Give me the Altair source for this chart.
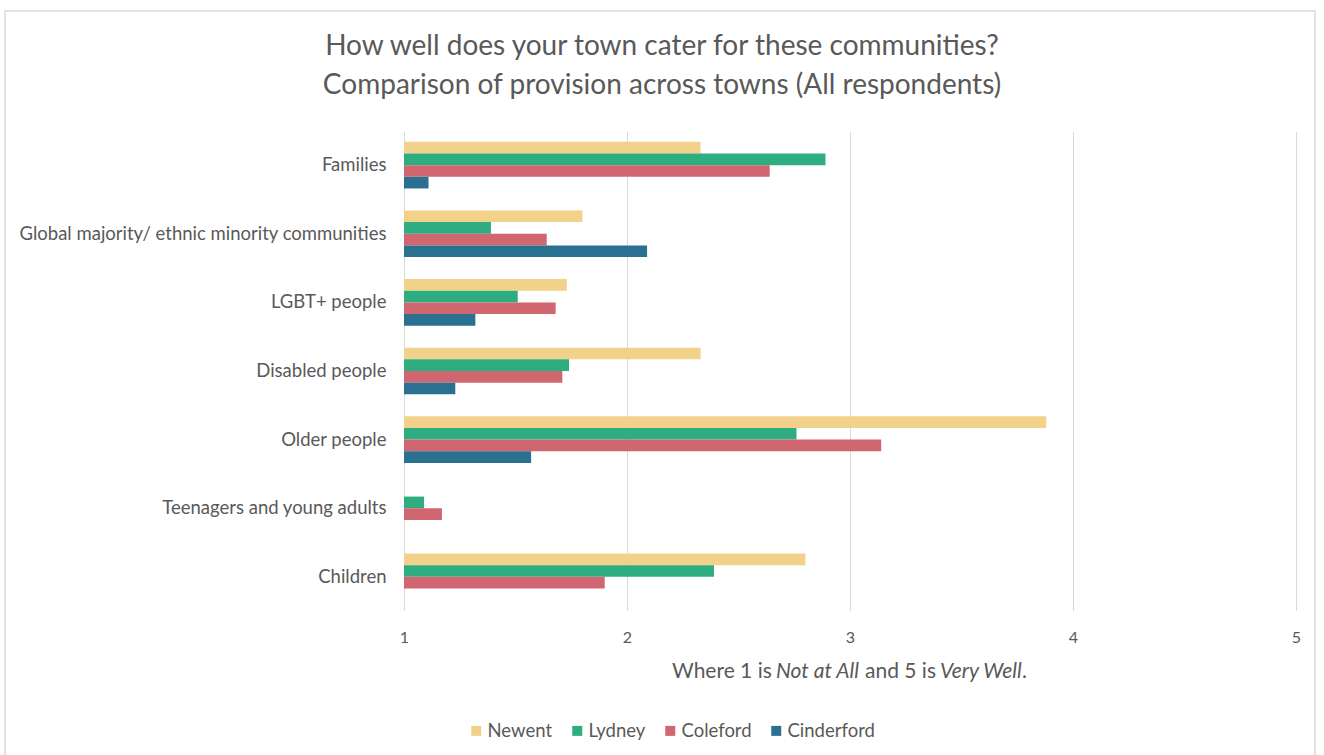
import altair as alt
import pandas as pd

# Survey categories (top to bottom) and the four towns
categories = [
    "Families",
    "Global majority/ ethnic minority communities",
    "LGBT+ people",
    "Disabled people",
    "Older people",
    "Teenagers and young adults",
    "Children",
]
towns = ["Newent", "Lydney", "Coleford", "Cinderford"]
town_colors = ["#F2D18B", "#2EAD80", "#CF6670", "#2A7191"]

# Mean rating per town (1 = Not at All, 5 = Very Well); None = no response
newent = [2.33, 1.80, 1.73, 2.33, 3.88, None, 2.80]
lydney = [2.89, 1.39, 1.51, 1.74, 2.76, 1.09, 2.39]
coleford = [2.64, 1.64, 1.68, 1.71, 3.14, 1.17, 1.90]
cinderford = [1.11, 2.09, 1.32, 1.23, 1.57, None, None]

x_ticks = [1, 2, 3, 4, 5]

title_lines = [
    "How well does your town cater for these communities?",
    "Comparison of provision across towns (All respondents)",
]

rows = []
for town, vals in zip(towns, [newent, lydney, coleford, cinderford]):
    for cat, v in zip(categories, vals):
        if v is not None:
            rows.append({"category": cat, "town": town, "score": v})
df = pd.DataFrame(rows)

FONT = "Lato"
GREY = "#595959"

W, H = 892, 479
PAD_L, PAD_T = 404, 131.5

bars = alt.Chart(df).mark_bar().encode(
    y=alt.Y(
        "category:N",
        sort=categories,
        scale=alt.Scale(paddingInner=0.32, paddingOuter=0.15),
        axis=alt.Axis(
            title=None, domain=False, ticks=False, grid=False,
            labelFont=FONT, labelFontSize=18.5, labelColor=GREY, labelPadding=18,
            labelLimit=400,
        ),
    ),
    yOffset=alt.YOffset("town:N", sort=towns, scale=alt.Scale(paddingInner=0, paddingOuter=0)),
    x=alt.X(
        "score:Q",
        scale=alt.Scale(domain=[1, 5], nice=False, zero=False),
        axis=alt.Axis(
            title=None, values=x_ticks, format="d", domain=False, ticks=False,
            grid=True, gridColor="#D9D9D9", gridWidth=1, labelFlush=False,
            labelFont=FONT, labelFontSize=16, labelColor=GREY, labelPadding=19,
        ),
    ),
    x2=alt.datum(1),
    color=alt.Color(
        "town:N",
        sort=towns,
        scale=alt.Scale(domain=towns, range=town_colors),
        legend=alt.Legend(
            title=None, orient="none", direction="horizontal",
            legendX=63, legendY=590,
            symbolType="square", symbolSize=100, symbolStrokeWidth=0,
            labelFont=FONT, labelFontSize=18.5, labelColor=GREY,
            labelOffset=2, columnPadding=15,
        ),
    ),
)

def text_piece(txt, x, y, size, style="normal", align="left"):
    return alt.Chart(pd.DataFrame({"t": [txt]})).mark_text(
        font=FONT, fontSize=size, color=GREY, fontStyle=style,
        align=align, baseline="middle", clip=False,
    ).encode(text="t:N", x=alt.value(x - PAD_L), y=alt.value(y - PAD_T))

# Two-line chart title centred over the whole figure
title = text_piece(title_lines[0], 662, 47, 28, align="center") + text_piece(
    title_lines[1], 662, 86, 28, align="center"
)

# Axis caption with italic phrases, assembled from plain and italic pieces
cap_y = 672
caption = (
    text_piece("Where 1 is", 672, cap_y, 21)
    + text_piece("Not at All", 776, cap_y, 21, "italic")
    + text_piece("and 5 is", 865, cap_y, 21)
    + text_piece("Very Well", 940, cap_y, 21, "italic")
    + text_piece(".", 1022, cap_y, 21)
)

# Light frame around the chart
frame = alt.Chart(pd.DataFrame({"a": [0]})).mark_rect(
    filled=False, stroke="#D9D9D9", strokeWidth=1.5, clip=False
).encode(
    x=alt.value(5 - PAD_L), x2=alt.value(1315 - PAD_L),
    y=alt.value(11 - PAD_T), y2=alt.value(800 - PAD_T),
)

chart = alt.layer(frame, bars, title, caption).properties(
    width=W,
    height=H,
    autosize=alt.AutoSizeParams(type="none"),
    padding={"left": PAD_L, "top": PAD_T, "right": 1324 - PAD_L - W, "bottom": 755 - PAD_T - H},
    background="white",
).configure_view(stroke=None)

chart.save("out.html", embed_options={"renderer": "svg", "actions": False})
